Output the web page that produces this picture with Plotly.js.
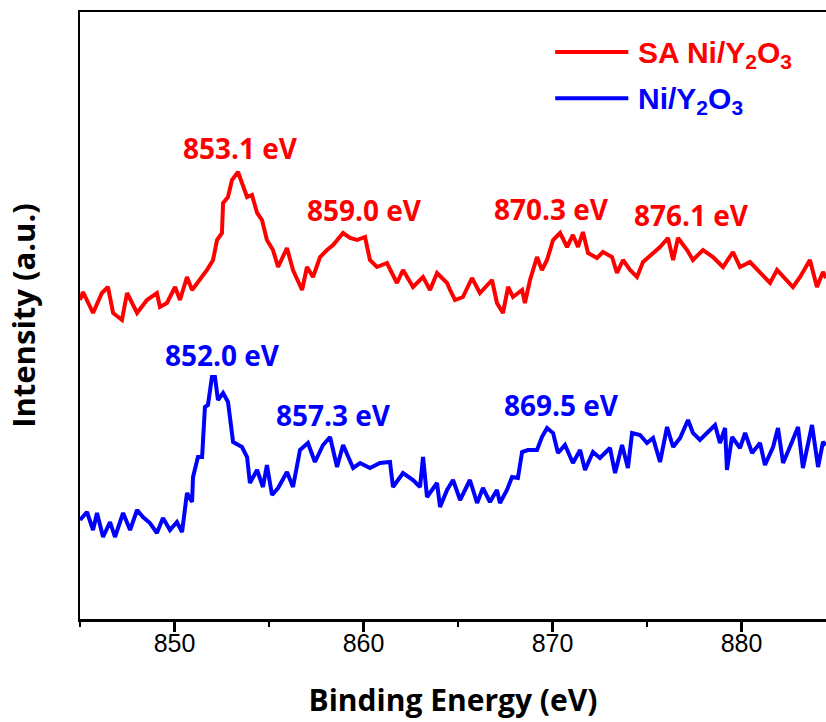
<!DOCTYPE html>
<html>
<head>
<meta charset="utf-8">
<script src="https://cdn.plot.ly/plotly-3.0.1.min.js"></script>
<style>html,body{margin:0;padding:0;background:#fff;}#chart{width:826px;height:722px;}</style>
</head>
<body>
<div id="chart"></div>
<script>
// Binding energy (eV) and intensity (a.u.)
const saEnergy = [845.00,845.16,845.69,846.16,846.48,846.75,847.22,847.49,848.02,848.54,849.07,849.23,849.60,850.03,850.29,850.66,850.93,851.35,851.72,852.04,852.25,852.51,852.57,852.83,853.04,853.36,853.62,853.84,854.10,854.37,854.63,854.89,855.21,855.48,855.95,856.27,856.75,857.01,857.33,857.70,858.07,858.39,858.92,859.29,859.66,860.08,860.34,860.71,861.24,861.77,862.09,862.62,863.15,863.52,863.89,864.42,864.58,864.84,865.26,865.74,866.16,866.80,867.06,867.38,867.65,867.91,868.39,868.54,868.81,869.18,869.44,869.71,870.03,870.40,870.77,871.08,871.35,871.61,871.88,872.35,872.67,873.15,873.41,873.73,874.10,874.47,874.79,875.32,875.69,876.11,876.38,876.64,877.12,877.43,877.96,878.49,879.02,879.55,879.92,880.45,880.98,881.51,881.88,882.41,882.72,883.10,883.62,883.99,884.31,884.47];
const saIntensity = [320,328,307,327,333,307,300,327,307,320,327,313,317,333,320,343,330,340,350,360,380,387,417,423,440,448,433,423,425,407,400,380,370,353,372,350,330,353,343,363,370,375,387,382,380,383,360,353,357,337,350,333,343,330,347,337,330,320,323,342,327,340,317,307,333,323,330,317,340,363,350,360,380,387,373,385,373,388,367,362,368,363,347,360,350,343,358,367,373,382,360,382,370,360,370,363,353,368,353,358,347,337,350,340,333,343,360,333,348,342];

const niEnergy = [845.00,845.37,845.69,845.90,846.22,846.59,846.85,847.28,847.65,848.02,848.33,848.70,849.07,849.39,849.76,850.13,850.40,850.66,850.93,850.98,851.24,851.46,851.61,851.77,851.98,852.14,852.30,852.57,852.83,853.10,853.57,853.84,853.99,854.37,854.68,854.89,855.16,855.48,855.95,856.27,856.64,857.06,857.43,857.86,858.23,858.60,858.92,859.45,859.82,860.34,860.87,861.40,861.56,862.09,862.62,862.99,863.15,863.36,863.89,864.05,864.42,864.74,865.11,865.63,866.01,866.32,866.69,867.06,867.22,867.59,867.86,868.17,868.39,868.70,869.18,869.44,869.71,870.03,870.29,870.66,871.08,871.46,871.72,872.14,872.51,873.04,873.31,873.68,873.99,874.21,874.63,875.00,875.32,875.69,876.06,876.38,876.75,877.17,877.43,877.80,878.17,878.60,878.86,879.13,879.23,879.50,879.92,880.19,880.56,880.98,881.24,881.67,881.93,882.20,882.67,882.99,883.25,883.73,884.05,884.31,884.47];
const niIntensity = [100,108,90,107,83,98,83,107,90,110,103,97,87,102,90,98,88,127,118,143,163,163,213,215,243,243,220,227,218,178,173,163,137,150,133,155,125,132,148,133,170,177,158,175,183,153,175,152,157,152,157,158,133,147,140,133,163,123,137,113,130,140,120,140,117,132,118,130,117,130,143,142,168,170,170,183,192,187,167,175,157,170,150,168,162,172,147,175,152,187,185,177,182,158,193,173,182,200,187,180,187,195,177,192,150,183,172,187,167,177,155,173,192,157,178,193,152,195,153,178,175];

const seriesNames = ['SA Ni/Y<sub>2</sub>O<sub>3</sub>', 'Ni/Y<sub>2</sub>O<sub>3</sub>'];
const seriesColors = ['#ff0000', '#0000ff'];

const saPeakLabels = ['853.1 eV', '859.0 eV', '870.3 eV', '876.1 eV'];
const saPeakX = [853.47, 860.03, 869.92, 877.33];
const saPeakY = [472, 410, 411, 405];
const niPeakLabels = ['852.0 eV', '857.3 eV', '869.5 eV'];
const niPeakX = [852.52, 858.39, 870.50];
const niPeakY = [265, 205, 215];

const xTicks = [850, 860, 870, 880];

const traces = [
  {x: saEnergy, y: saIntensity, name: seriesNames[0], mode: 'lines', line: {color: seriesColors[0], width: 4}},
  {x: niEnergy, y: niIntensity, name: seriesNames[1], mode: 'lines', line: {color: seriesColors[1], width: 4}}
];

const labelFont = {family: 'Open Sans, sans-serif', size: 28};
const annotations = [];
saPeakLabels.forEach((t, i) => annotations.push({x: saPeakX[i], y: saPeakY[i], xref: 'x', yref: 'y', text: '<b>' + t + '</b>', showarrow: false, font: Object.assign({}, labelFont, {color: seriesColors[0]})}));
niPeakLabels.forEach((t, i) => annotations.push({x: niPeakX[i], y: niPeakY[i], xref: 'x', yref: 'y', text: '<b>' + t + '</b>', showarrow: false, font: Object.assign({}, labelFont, {color: seriesColors[1]})}));

// manual legend
const legY = [0.934, 0.858];
const shapes = [];
seriesNames.forEach((n, i) => {
  shapes.push({type: 'line', xref: 'paper', yref: 'paper', x0: 0.637, x1: 0.735, y0: legY[i], y1: legY[i], line: {color: seriesColors[i], width: 4}});
  annotations.push({xref: 'paper', yref: 'paper', x: 0.745, y: legY[i] - 0.004, xanchor: 'left', yanchor: 'middle', showarrow: false, text: '<b>' + n + '</b>', font: {family: 'Liberation Sans, Arial, sans-serif', size: 30, color: seriesColors[i]}});
});

const layout = {
  width: 826, height: 722,
  margin: {l: 80, r: 0, t: 12, b: 103, pad: 0},
  paper_bgcolor: '#ffffff', plot_bgcolor: '#ffffff',
  showlegend: false,
  xaxis: {
    range: [845, 884.47], tickvals: xTicks, ticktext: xTicks.map(String),
    showline: true, linecolor: '#000', linewidth: 2.5, mirror: true,
    ticks: 'outside', ticklen: 10, tickwidth: 2.5, tickcolor: '#000',
    minor: {dtick: 5, tick0: 845, ticks: 'outside', ticklen: 5, tickwidth: 2.5, tickcolor: '#000'},
    showgrid: false, zeroline: false, ticklabelstandoff: -10,
    tickfont: {family: 'Liberation Sans, Arial, sans-serif', size: 25, color: '#000'},
    title: {text: '<b>Binding Energy (eV)</b>', font: {family: 'Open Sans, sans-serif', size: 30, color: '#000'}, standoff: 35}
  },
  yaxis: {
    range: [1, 608], showline: true, linecolor: '#000', linewidth: 2.5, mirror: false,
    ticks: '', showticklabels: false, showgrid: false, zeroline: false,
    title: {text: '<b>Intensity (a.u.)</b>', font: {family: 'Open Sans, sans-serif', size: 31, color: '#000'}, standoff: 33}
  },
  annotations: annotations,
  shapes: shapes
};

Plotly.newPlot('chart', traces, layout, {displayModeBar: false, staticPlot: true});
</script>
</body>
</html>
